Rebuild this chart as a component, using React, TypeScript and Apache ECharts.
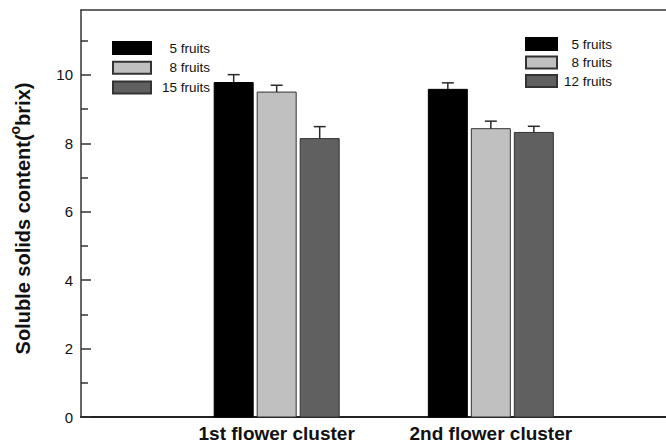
import React, { useEffect, useRef } from "react";
import * as echarts from "echarts";

// Flower clusters along the x axis (positions 1 and 2 on a value axis)
const clusters = ["1st flower cluster", "2nd flower cluster"];
const clusterPos = [1, 2];

// Soluble solids content (°brix) means and standard errors
const fiveFruits = [9.78, 9.58];
const fiveFruitsErr = [0.23, 0.19];
const eightFruits = [9.5, 8.43];
const eightFruitsErr = [0.2, 0.22];
const fifteenFruits = [8.14]; // 1st cluster only
const fifteenFruitsErr = [0.35];
const twelveFruits = [8.32]; // 2nd cluster only
const twelveFruitsErr = [0.18];

const yMajorTicks = [0, 2, 4, 6, 8, 10];
const yMinorTicks = [1, 3, 5, 7, 9, 11];

const BAR_W = 39;
const BAR_STEP = 43;

function barSeries(
  name: string,
  positions: number[],
  values: number[],
  errs: number[],
  slot: number,
  fill: string,
  stroke: string
) {
  return {
    type: "custom",
    name,
    xAxisIndex: 0,
    yAxisIndex: 0,
    itemStyle: { color: fill, borderColor: stroke, borderWidth: 1 },
    encode: { x: 0, y: 1 },
    data: values.map((v, i) => [positions[i], v, errs[i]]),
    renderItem: (_params: any, api: any) => {
      const x = api.value(0);
      const v = api.value(1);
      const e = api.value(2);
      const base = api.coord([x, 0]);
      const top = api.coord([x, v]);
      const errTop = api.coord([x, v + e]);
      const cx = base[0] + (slot - 1) * BAR_STEP;
      return {
        type: "group",
        children: [
          {
            type: "rect",
            shape: { x: cx - BAR_W / 2, y: top[1], width: BAR_W, height: base[1] - top[1] },
            style: { fill, stroke, lineWidth: 1 },
          },
          {
            type: "line",
            shape: { x1: cx, y1: top[1], x2: cx, y2: errTop[1] },
            style: { stroke: "#2a2a2a", lineWidth: 1.5 },
          },
          {
            type: "line",
            shape: { x1: cx - 6, y1: errTop[1], x2: cx + 6, y2: errTop[1] },
            style: { stroke: "#2a2a2a", lineWidth: 1.5 },
          },
        ],
      };
    },
  };
}

function legend(names: string[], left: number, top: number, iconW: number, gap: number, textW: number) {
  return {
    orient: "vertical",
    left,
    top,
    padding: 0,
    itemWidth: iconW,
    itemHeight: 12,
    itemGap: gap,
    icon: "rect",
    selectedMode: false,
    data: names,
    formatter: (n: string) => `{t|${n}}`,
    textStyle: {
      rich: {
        t: {
          width: textW,
          align: "right",
          fontSize: 13.5,
          fontFamily: "Liberation Sans, Arial, sans-serif",
          color: "#111",
        },
      },
    },
  };
}

export default function App() {
  const ref = useRef<HTMLDivElement>(null);

  useEffect(() => {
    if (!ref.current) return;
    const chart = echarts.init(ref.current, undefined, { renderer: "svg" });
    const font = "Liberation Sans, Arial, sans-serif";
    const xMin = 0.0862;
    const xMax = 2.818;
    chart.setOption({
      animation: false,
      backgroundColor: "#fff",
      textStyle: { fontFamily: font },
      grid: { left: 80, top: 10, bottom: 26, right: 0 },
      legend: [
        legend(["5 fruits", "8 fruits", "15 fruits"], 112, 41, 38, 5.7, 54),
        legend(["5 fruits", "8 fruits", "12 fruits"], 525, 37, 31, 4.5, 50),
      ],
      xAxis: [
        {
          type: "value",
          min: xMin,
          max: xMax,
          splitLine: { show: false },
          axisLine: { show: true, lineStyle: { color: "#222", width: 2 } },
          axisTick: { show: false },
          axisLabel: {
            customValues: clusterPos,
            formatter: (v: number) => clusters[Math.round(v) - 1] ?? "",
            fontSize: 19,
            fontWeight: "bold",
            color: "#111",
            fontFamily: font,
            margin: 7,
          },
        },
        {
          // frame line along the top of the plot
          type: "value",
          position: "top",
          min: xMin,
          max: xMax,
          splitLine: { show: false },
          axisLine: { show: true, onZero: false, lineStyle: { color: "#333", width: 1.5 } },
          axisTick: { show: false },
          axisLabel: { show: false },
        },
      ],
      yAxis: [
        {
          type: "value",
          min: 0,
          max: 11.9,
          splitLine: { show: false },
          axisLine: { show: true, lineStyle: { color: "#333", width: 1.5 } },
          axisTick: {
            show: true,
            inside: true,
            length: 10,
            customValues: yMajorTicks,
            lineStyle: { color: "#333", width: 1.5 },
          },
          axisLabel: {
            customValues: yMajorTicks,
            fontSize: 15,
            color: "#111",
            fontFamily: font,
            margin: 8,
          },
          name: "{m|Soluble solids content(}{s|o}{m|brix)}",
          nameLocation: "middle",
          nameGap: 43,
          nameTextStyle: {
            padding: [0, 10, 0, 0],
            rich: {
              m: { fontSize: 20, fontWeight: "bold", color: "#111", fontFamily: font },
              s: {
                fontSize: 14,
                fontWeight: "bold",
                color: "#111",
                fontFamily: font,
                padding: [0, 0, 16, 0],
              },
            },
          },
        },
        {
          type: "value",
          min: 0,
          max: 11.9,
          position: "left",
          splitLine: { show: false },
          axisLine: { show: false },
          axisLabel: { show: false },
          axisTick: {
            show: true,
            inside: true,
            length: 7,
            customValues: yMinorTicks,
            lineStyle: { color: "#333", width: 1.5 },
          },
        },
      ],
      series: [
        barSeries("5 fruits", clusterPos, fiveFruits, fiveFruitsErr, 0, "#000000", "#000000"),
        barSeries("8 fruits", clusterPos, eightFruits, eightFruitsErr, 1, "#c0c0c0", "#333333"),
        barSeries("15 fruits", [clusterPos[0]], fifteenFruits, fifteenFruitsErr, 2, "#606060", "#333333"),
        barSeries("12 fruits", [clusterPos[1]], twelveFruits, twelveFruitsErr, 2, "#606060", "#333333"),
      ],
    });
    return () => chart.dispose();
  }, []);

  return (
    <div
      ref={ref}
      style={{ position: "fixed", left: 0, top: 0, width: 666, height: 443, background: "#fff" }}
    />
  );
}
